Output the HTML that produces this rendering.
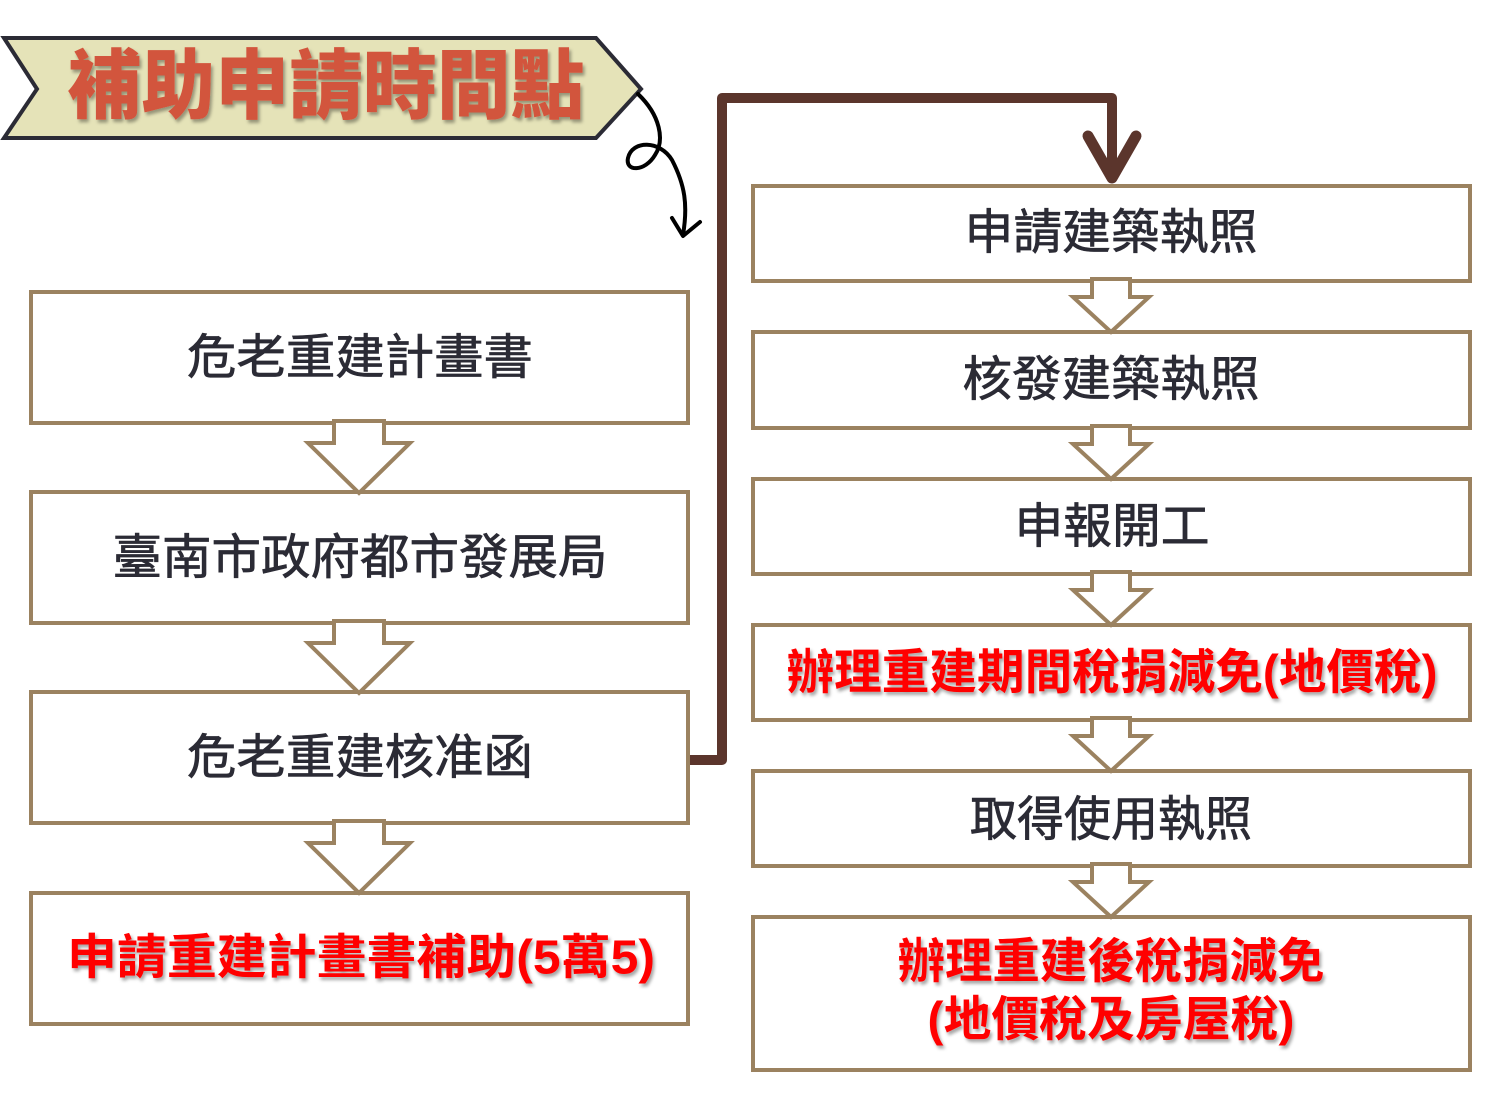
<!DOCTYPE html>
<html><head><meta charset="utf-8"><style>
html,body{margin:0;padding:0;background:#fff;}
svg{display:block;}
.t{font-family:"Liberation Sans","Noto Sans CJK TC",sans-serif;fill:#2b2b35;stroke:#2b2b35;stroke-width:0.7;font-size:48px;}
.r{font-family:"Liberation Sans","Noto Sans CJK TC",sans-serif;fill:#ff0000;font-size:48px;font-weight:bold;filter:url(#sh);}
</style></head><body>
<svg width="1487" height="1107" viewBox="0 0 1487 1107">
<defs>
<filter id="sh" x="-5%" y="-20%" width="110%" height="140%"><feDropShadow dx="2" dy="3" stdDeviation="1.5" flood-color="#000" flood-opacity="0.35"/></filter>
</defs>
<polygon points="4,38 596,38 641,89 596,138 4,138 37,89" fill="#e5e3b8" stroke="#2b2b35" stroke-width="4" stroke-linejoin="miter"/>
<text x="326" y="87" dominant-baseline="central" text-anchor="middle" textLength="517" lengthAdjust="spacingAndGlyphs" style="font-family:'Liberation Sans','Noto Sans CJK TC',sans-serif;font-size:76px;font-weight:900;fill:#d2553c;filter:url(#sh)">補助申請時間點</text>
<path d="M638,94 C660,115 665,140 655,155 C645,172 625,172 628,158 C632,140 660,140 672,160 C685,185 688,205 683,235" fill="none" stroke="#000" stroke-width="4" stroke-linecap="round"/>
<path d="M672,218 L683,236 L700,222" fill="none" stroke="#000" stroke-width="4" stroke-linecap="round" stroke-linejoin="round"/>
<path d="M690,760 L722,760 L722,98 L1112,98 L1112,176" fill="none" stroke="#5b352c" stroke-width="10" stroke-linejoin="round"/>
<path d="M1088,136 L1112,178 L1136,136" fill="none" stroke="#5b352c" stroke-width="11" stroke-linecap="round" stroke-linejoin="round"/>
<g fill="#fff" stroke="#9b8260" stroke-width="4">
<rect x="31" y="292" width="657" height="131"/>
<rect x="31" y="492" width="657" height="131"/>
<rect x="31" y="692" width="657" height="131"/>
<rect x="31" y="893" width="657" height="131"/>
<rect x="753" y="186" width="717" height="95"/>
<rect x="753" y="332" width="717" height="96"/>
<rect x="753" y="479" width="717" height="95"/>
<rect x="753" y="625" width="717" height="95"/>
<rect x="753" y="771" width="717" height="95"/>
<rect x="753" y="917" width="717" height="153"/>
<polygon points="334,421 384,421 384,443 410,443 359,493 308,443 334,443"/>
<polygon points="334,621 384,621 384,643 410,643 359,693 308,643 334,643"/>
<polygon points="334,821 384,821 384,843 410,843 359,893 308,843 334,843"/>
<polygon points="1092,279 1130,279 1130,297 1149,297 1111,332 1073,297 1092,297"/>
<polygon points="1092,426 1130,426 1130,444 1149,444 1111,479 1073,444 1092,444"/>
<polygon points="1092,572 1130,572 1130,590 1149,590 1111,625 1073,590 1092,590"/>
<polygon points="1092,718 1130,718 1130,736 1149,736 1111,771 1073,736 1092,736"/>
<polygon points="1092,864 1130,864 1130,882 1149,882 1111,917 1073,882 1092,882"/>
</g>
<text class="t" x="360" y="358" dominant-baseline="central" text-anchor="middle" textLength="346" lengthAdjust="spacingAndGlyphs">危老重建計畫書</text>
<text class="t" x="360" y="558" dominant-baseline="central" text-anchor="middle" textLength="495" lengthAdjust="spacingAndGlyphs">臺南市政府都市發展局</text>
<text class="t" x="360" y="758" dominant-baseline="central" text-anchor="middle" textLength="346" lengthAdjust="spacingAndGlyphs">危老重建核准函</text>
<text class="r" x="361" y="958" dominant-baseline="central" text-anchor="middle" textLength="588" lengthAdjust="spacingAndGlyphs">申請重建計畫書補助(5萬5)</text>
<text class="t" x="1111" y="233" dominant-baseline="central" text-anchor="middle" textLength="293" lengthAdjust="spacingAndGlyphs">申請建築執照</text>
<text class="t" x="1111" y="380" dominant-baseline="central" text-anchor="middle" textLength="297" lengthAdjust="spacingAndGlyphs">核發建築執照</text>
<text class="t" x="1112" y="527" dominant-baseline="central" text-anchor="middle" textLength="195" lengthAdjust="spacingAndGlyphs">申報開工</text>
<text class="r" x="1112" y="673" dominant-baseline="central" text-anchor="middle" textLength="651" lengthAdjust="spacingAndGlyphs">辦理重建期間稅捐減免(地價稅)</text>
<text class="t" x="1111" y="820" dominant-baseline="central" text-anchor="middle" textLength="282" lengthAdjust="spacingAndGlyphs">取得使用執照</text>
<text class="r" x="1111" y="962" dominant-baseline="central" text-anchor="middle" textLength="427" lengthAdjust="spacingAndGlyphs">辦理重建後稅捐減免</text>
<text class="r" x="1111" y="1020" dominant-baseline="central" text-anchor="middle" textLength="367" lengthAdjust="spacingAndGlyphs">(地價稅及房屋稅)</text>
</svg>
</body></html>
